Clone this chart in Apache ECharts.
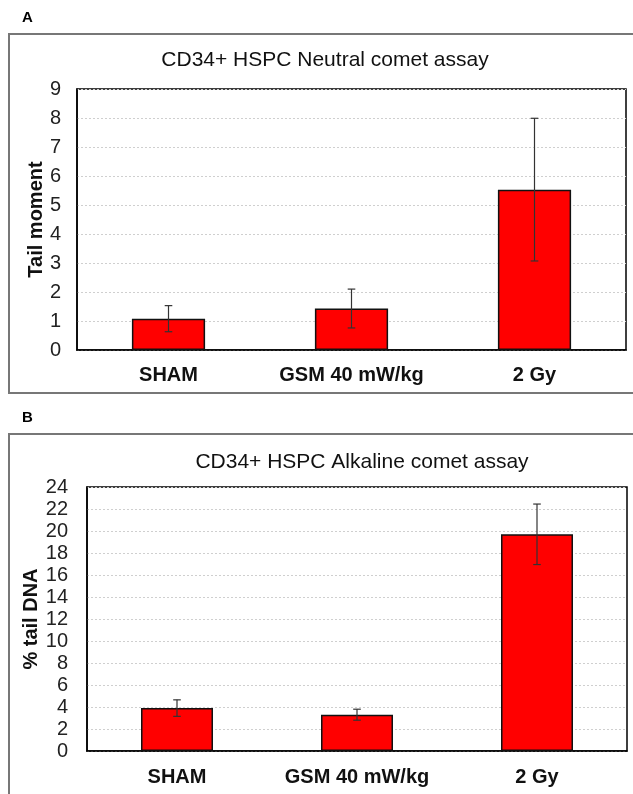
<!DOCTYPE html>
<html>
<head>
<meta charset="utf-8">
<script src="https://cdn.jsdelivr.net/npm/echarts@6/dist/echarts.min.js"></script>
<style>
  html, body { margin: 0; padding: 0; background: #fff; }
  #chart { width: 633px; height: 794px; }
</style>
</head>
<body>
<div id="chart"></div>
<script>
// values (mean and error bar half-height)
const categories = ['SHAM', 'GSM 40 mW/kg', '2 Gy']
const neutralMean = [1.08, 1.43, 5.53]
const neutralErr = [0.45, 0.67, 2.46]
const alkalineMean = [3.9, 3.3, 19.7]
const alkalineErr = [0.75, 0.5, 2.75]

const font = "'Liberation Sans', Arial, sans-serif"

function errData (mean, err) {
  return mean.map((m, i) => [i, m, err[i]])
}

// whiskers drawn through the grid's own coord system
function renderErr (params, api) {
  const i = api.value(0)
  const m = api.value(1)
  const e = api.value(2)
  const top = api.coord([i, m + e])
  const bot = api.coord([i, m - e])
  const cap = 3.8
  const style = { stroke: '#333', lineWidth: 1.2 }
  return {
    type: 'group',
    children: [
      { type: 'line', shape: { x1: top[0], y1: top[1], x2: bot[0], y2: bot[1] }, style },
      { type: 'line', shape: { x1: top[0] - cap, y1: top[1], x2: top[0] + cap, y2: top[1] }, style },
      { type: 'line', shape: { x1: bot[0] - cap, y1: bot[1], x2: bot[0] + cap, y2: bot[1] }, style }
    ]
  }
}

function xAxis (gridIndex, margin) {
  return {
    type: 'category',
    gridIndex,
    data: categories,
    axisTick: { show: false },
    axisLine: { lineStyle: { color: '#000', width: 1.5 } },
    axisLabel: { interval: 0, color: '#111', fontFamily: font, fontSize: 20, fontWeight: 'bold', margin }
  }
}

function yAxis (gridIndex, max, interval, name, nameGap, margin) {
  return {
    type: 'value',
    gridIndex,
    min: 0,
    max,
    interval,
    name,
    nameLocation: 'middle',
    nameGap,
    nameMoveOverlap: false,
    nameTextStyle: { color: '#111', fontFamily: font, fontSize: 20, fontWeight: 'bold' },
    axisLine: { show: true, lineStyle: { color: '#000', width: 1.5 } },
    axisTick: { show: false },
    axisLabel: { color: '#222', fontFamily: font, fontSize: 20, margin },
    splitLine: { lineStyle: { color: '#cfcfcf', type: [2, 2], width: 1 } }
  }
}

const barStyle = { color: '#ff0000', borderColor: '#111', borderWidth: 1.5 }

const option = {
  backgroundColor: '#fff',
  animation: false,
  graphic: [
    { type: 'rect', shape: { x: 9, y: 34, width: 640, height: 359 }, style: { fill: 'none', stroke: '#777', lineWidth: 2 } },
    { type: 'rect', shape: { x: 9, y: 434, width: 640, height: 380 }, style: { fill: 'none', stroke: '#777', lineWidth: 2 } },
    { type: 'text', style: { x: 22, y: 18, text: 'A', textVerticalAlign: 'middle', fontFamily: font, fontSize: 15, fontWeight: 'bold', fill: '#000' } },
    { type: 'text', style: { x: 22, y: 418, text: 'B', textVerticalAlign: 'middle', fontFamily: font, fontSize: 15, fontWeight: 'bold', fill: '#000' } },
    { type: 'text', style: { x: 325, y: 60, text: 'CD34+ HSPC Neutral comet assay', textAlign: 'center', textVerticalAlign: 'middle', fontFamily: font, fontSize: 21, fill: '#111' } },
    { type: 'text', style: { x: 362, y: 462, text: 'CD34+ HSPC Alkaline comet assay', textAlign: 'center', textVerticalAlign: 'middle', fontFamily: font, fontSize: 21, fill: '#111' } }
  ],
  grid: [
    { left: 77, top: 89, right: 7, height: 261, show: true, borderColor: '#000', borderWidth: 1.5, backgroundColor: 'transparent' },
    { left: 87, top: 487, right: 6, height: 264, show: true, borderColor: '#000', borderWidth: 1.5, backgroundColor: 'transparent' }
  ],
  xAxis: [xAxis(0, 15), xAxis(1, 16)],
  yAxis: [
    yAxis(0, 9, 1, 'Tail moment', 31, 16),
    yAxis(1, 24, 2, '% tail DNA', 46, 19)
  ],
  series: [
    {
      type: 'bar',
      xAxisIndex: 0,
      yAxisIndex: 0,
      data: neutralMean,
      barWidth: '40%',
      itemStyle: barStyle
    },
    {
      type: 'custom',
      xAxisIndex: 0,
      yAxisIndex: 0,
      data: errData(neutralMean, neutralErr),
      encode: { x: 0, y: 1 },
      renderItem: renderErr,
      z: 10
    },
    {
      type: 'bar',
      xAxisIndex: 1,
      yAxisIndex: 1,
      data: alkalineMean,
      barWidth: '40%',
      itemStyle: barStyle
    },
    {
      type: 'custom',
      xAxisIndex: 1,
      yAxisIndex: 1,
      data: errData(alkalineMean, alkalineErr),
      encode: { x: 0, y: 1 },
      renderItem: renderErr,
      z: 10
    }
  ]
}

const chart = echarts.init(document.getElementById('chart'))
chart.setOption(option)
</script>
</body>
</html>
